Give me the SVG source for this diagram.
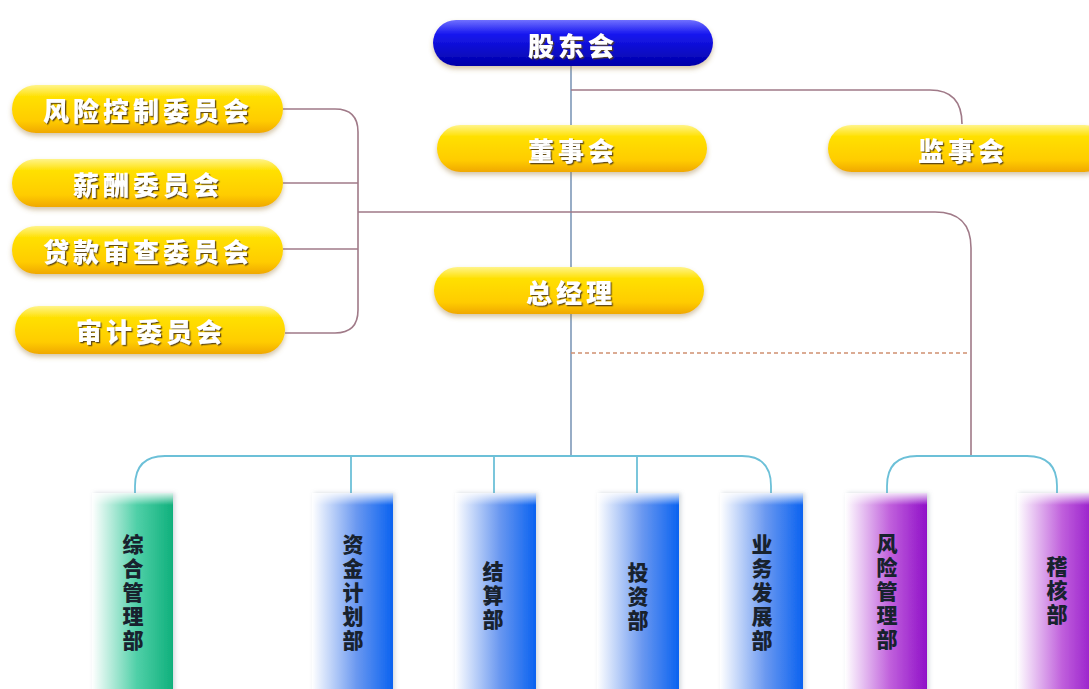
<svg xmlns="http://www.w3.org/2000/svg" width="1089" height="689" viewBox="0 0 1089 689">
<defs>
<linearGradient id="gY" x1="0" y1="0" x2="0" y2="1">
<stop offset="0" stop-color="#fff48a"/>
<stop offset="0.25" stop-color="#ffe000"/>
<stop offset="0.75" stop-color="#ffcc00"/>
<stop offset="1" stop-color="#f0a800"/>
</linearGradient>
<linearGradient id="gB" x1="0" y1="0" x2="0" y2="1">
<stop offset="0" stop-color="#7070ff"/>
<stop offset="0.3" stop-color="#1818f0"/>
<stop offset="1" stop-color="#0000a8"/>
</linearGradient>
<linearGradient id="gGreen" x1="0" y1="0" x2="1" y2="0">
<stop offset="0" stop-color="#ffffff"/>
<stop offset="0.55" stop-color="#50d0a8"/>
<stop offset="1" stop-color="#10b07c"/>
</linearGradient>
<linearGradient id="gBlue" x1="0" y1="0" x2="1" y2="0">
<stop offset="0" stop-color="#ffffff"/>
<stop offset="0.55" stop-color="#6a98f0"/>
<stop offset="1" stop-color="#0a62f0"/>
</linearGradient>
<linearGradient id="gPurple" x1="0" y1="0" x2="1" y2="0">
<stop offset="0" stop-color="#ffffff"/>
<stop offset="0.55" stop-color="#c060dc"/>
<stop offset="1" stop-color="#9010c8"/>
</linearGradient>
<linearGradient id="gTop" x1="0" y1="0" x2="0" y2="1">
<stop offset="0" stop-color="#ffffff" stop-opacity="0.85"/>
<stop offset="1" stop-color="#ffffff" stop-opacity="0"/>
</linearGradient>
<filter id="shadow" x="-10%" y="-30%" width="120%" height="170%">
<feDropShadow dx="0" dy="3" stdDeviation="2.5" flood-color="#a08040" flood-opacity="0.45"/>
</filter>
<filter id="txtsh" x="-10%" y="-20%" width="120%" height="150%">
<feDropShadow dx="1.3" dy="1.3" stdDeviation="0.5" flood-color="#5a4418" flood-opacity="0.95"/>
</filter>
<filter id="colsh" x="-20%" y="-10%" width="140%" height="120%">
<feDropShadow dx="2" dy="0" stdDeviation="2" flood-color="#8090a0" flood-opacity="0.35"/>
</filter>
</defs>
<style>
.pill{fill:url(#gY);filter:url(#shadow);}
.pillB{fill:url(#gB);filter:url(#shadow);}
.pt{font-family:"Noto Sans CJK SC","Noto Sans",sans-serif;font-weight:900;font-size:26px;fill:#ffffff;letter-spacing:4px;text-anchor:middle;dominant-baseline:central;filter:url(#txtsh);}
.ct{font-family:"Noto Sans CJK SC","Noto Sans",sans-serif;font-weight:900;font-size:21px;fill:#18222e;text-anchor:middle;writing-mode:vertical-rl;letter-spacing:3px;}
.lp{fill:none;stroke:#a07a88;stroke-width:1.6;}
.lv{fill:none;stroke:#7e98b8;stroke-width:1.6;}
.lb{fill:none;stroke:#6cc0d8;stroke-width:1.8;}
.ld{fill:none;stroke:#d09070;stroke-width:1.4;stroke-dasharray:4 3;}
.top{fill:url(#gTop);}
</style>
<rect width="1089" height="689" fill="#ffffff"/>
<g id="connectors">
<path class="lv" d="M571,66 V456"/>
<path class="lp" d="M571,90 H930 Q962,90 962,124"/>
<path class="lp" d="M283,109 H335 Q358,109 358,132 V310 Q358,333 335,333 H285"/>
<path class="lp" d="M283,183 H358"/>
<path class="lp" d="M283,249 H358"/>
<path class="lp" d="M358,212 H935 Q971,212 971,248 V456"/>
<path class="ld" d="M571,353 H969"/>
<path class="lb" d="M135,493 V486 Q135,456 165,456 H742 Q771,456 771,486 V493"/>
<path class="lb" d="M351,456 V493"/>
<path class="lb" d="M494,456 V493"/>
<path class="lb" d="M637,456 V493"/>
<path class="lb" d="M887,493 V486 Q887,456 917,456 H1027 Q1057,456 1057,486 V493"/>
</g>
<g id="gudonghui">
<rect class="pillB" x="433" y="20" width="280" height="46" rx="23"/>
<text class="pt" x="573" y="44">股东会</text>
</g>
<g id="dongshihui">
<rect class="pill" x="437" y="125" width="270" height="47" rx="23.5"/>
<text class="pt" x="573" y="149">董事会</text>
</g>
<g id="jianshihui">
<rect class="pill" x="828" y="125" width="280" height="47" rx="23.5"/>
<text class="pt" x="963" y="149">监事会</text>
</g>
<g id="zongjingli">
<rect class="pill" x="434" y="267" width="270" height="47" rx="23.5"/>
<text class="pt" x="571" y="291">总经理</text>
</g>
<g id="fengxiankongzhi">
<rect class="pill" x="12" y="85" width="271" height="48" rx="24"/>
<text class="pt" x="148" y="109">风险控制委员会</text>
</g>
<g id="xinchou">
<rect class="pill" x="12" y="159" width="271" height="48" rx="24"/>
<text class="pt" x="148" y="183">薪酬委员会</text>
</g>
<g id="daikuanshencha">
<rect class="pill" x="12" y="226" width="271" height="48" rx="24"/>
<text class="pt" x="148" y="250">贷款审查委员会</text>
</g>
<g id="shenji">
<rect class="pill" x="15" y="306" width="270" height="48" rx="24"/>
<text class="pt" x="151" y="330">审计委员会</text>
</g>
<g id="zonghe">
<rect x="92" y="493" width="81" height="200" fill="url(#gGreen)" filter="url(#colsh)"/>
<rect class="top" x="92" y="493" width="81" height="12"/>
<text class="ct" x="133" y="594">综合管理部</text>
</g>
<g id="zijinjihua">
<rect x="312" y="493" width="81" height="200" fill="url(#gBlue)" filter="url(#colsh)"/>
<rect class="top" x="312" y="493" width="81" height="12"/>
<text class="ct" x="353" y="594">资金计划部</text>
</g>
<g id="jiesuan">
<rect x="455" y="493" width="81" height="200" fill="url(#gBlue)" filter="url(#colsh)"/>
<rect class="top" x="455" y="493" width="81" height="12"/>
<text class="ct" x="493" y="597">结算部</text>
</g>
<g id="touzi">
<rect x="597" y="493" width="82" height="200" fill="url(#gBlue)" filter="url(#colsh)"/>
<rect class="top" x="597" y="493" width="82" height="12"/>
<text class="ct" x="638" y="598">投资部</text>
</g>
<g id="yewufazhan">
<rect x="720" y="493" width="83" height="200" fill="url(#gBlue)" filter="url(#colsh)"/>
<rect class="top" x="720" y="493" width="83" height="12"/>
<text class="ct" x="762" y="594">业务发展部</text>
</g>
<g id="fengxianguanli">
<rect x="845" y="493" width="82" height="200" fill="url(#gPurple)" filter="url(#colsh)"/>
<rect class="top" x="845" y="493" width="82" height="12"/>
<text class="ct" x="887" y="593">风险管理部</text>
</g>
<g id="jihe">
<rect x="1017" y="493" width="82" height="200" fill="url(#gPurple)" filter="url(#colsh)"/>
<rect class="top" x="1017" y="493" width="82" height="12"/>
<text class="ct" x="1057" y="592">稽核部</text>
</g>
</svg>
